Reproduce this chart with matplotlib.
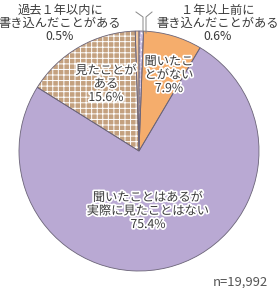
import matplotlib
matplotlib.use('Agg')
import matplotlib.pyplot as plt
import matplotlib.patheffects as pe

plt.rcParams['font.family'] = ['Noto Sans CJK JP', 'DejaVu Sans']
plt.rcParams['hatch.linewidth'] = 0.7

# 時計回り、真上から
labels = ['１年以上前に\n書き込んだことがある', '聞いたこ\nとがない', '聞いたことはあるが\n実際に見たことはない',
          '見たことが\nある', '過去１年以内に\n書き込んだことがある']
values = [0.6, 7.9, 75.4, 15.6, 0.5]
colors = ['#c9bde0', '#f5ad6c', '#b9a9d3', '#c4a17f', '#f3c9a0']
hatches = ['....', None, None, '+++', '||||']
n_label = 'n=19,992'

W, H = 278, 288
fig = plt.figure(figsize=(W / 100, H / 100), dpi=100)
ax = fig.add_axes([0, 0, 1, 1])

cx, cy, r = 139, H - 151, 120

# 塗り
wedges, _ = ax.pie(values, colors=colors, startangle=90, counterclock=False,
                   center=(cx, cy), radius=r, frame=True,
                   wedgeprops=dict(linewidth=0, edgecolor='white'))
for w, h in zip(wedges, hatches):
    if h:
        w.set_hatch(h)
        w.set_edgecolor('white')
# 輪郭
ax.pie(values, colors=['none'] * 5, startangle=90, counterclock=False,
       center=(cx, cy), radius=r, frame=True,
       wedgeprops=dict(linewidth=0.6, edgecolor='#6b6478', fill=False))
ax.set_xlim(0, W)
ax.set_ylim(0, H)
ax.set_aspect('equal')
ax.axis('off')

stroke = [pe.withStroke(linewidth=2.5, foreground='white')]
tc = '#3a3a3a'
fs = 8.8

def put(x, y, s, **kw):
    ax.text(x, H - y, s, ha='center', va='center', fontsize=fs, color=tc,
            linespacing=1.05, path_effects=stroke, **kw)

put(169, 75, labels[1] + '\n' + f'{values[1]}%')
put(106, 84, labels[3] + '\n' + f'{values[3]}%')
put(148, 211, labels[2] + '\n' + f'{values[2]}%')

ax.text(60, H - 23, labels[4] + '\n' + f'{values[4]}%', ha='center', va='center',
        fontsize=fs, color=tc, linespacing=1.0)
ax.text(218, H - 23, labels[0] + '\n' + f'{values[0]}%', ha='center', va='center',
        fontsize=fs, color=tc, linespacing=1.0)

# 引き出し線
ax.plot([143, 143, 136], [H - 33, H - 17, H - 12], color='#888888', lw=0.7)
ax.plot([146, 146, 152], [H - 33, H - 17, H - 12], color='#888888', lw=0.7)

ax.text(268, H - 282, n_label, ha='right', va='center', fontsize=9.4, color='#555555')

plt.savefig('out.png', dpi=100)
